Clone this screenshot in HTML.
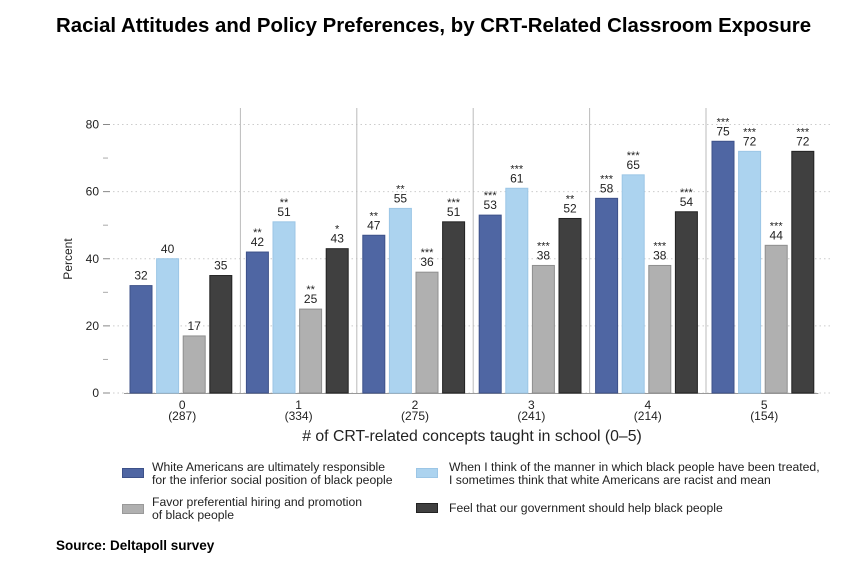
<!DOCTYPE html>
<html><head><meta charset="utf-8"><style>
body{margin:0;background:#fff;font-family:"Liberation Sans",Arial,sans-serif;}
#wrap{position:relative;width:867px;height:564px;overflow:hidden;}
.t{position:absolute;white-space:nowrap;}
.sw{position:absolute;width:22px;height:10px;}
.lg{position:absolute;font-size:12.2px;line-height:13px;color:#222;white-space:nowrap;}
</style></head><body>
<div id="wrap">
<div class="t" style="left:56px;top:15px;font-size:20.4px;font-weight:bold;color:#000;">Racial Attitudes and Policy Preferences, by CRT-Related Classroom Exposure</div>
<svg id="chart" width="867" height="564" style="position:absolute;left:0;top:0"></svg>
<div class="sw" style="left:122px;top:468px;background:#4f66a3;border:1px solid #3d5189;box-sizing:border-box"></div>
<div class="lg" style="left:152px;top:461px">White Americans are ultimately responsible<br>for the inferior social position of black people</div>
<div class="sw" style="left:416px;top:468px;background:#acd3ef;border:1px solid #9cc6e6;box-sizing:border-box"></div>
<div class="lg" style="left:449px;top:461px">When I think of the manner in which black people have been treated,<br>I sometimes think that white Americans are racist and mean</div>
<div class="sw" style="left:122px;top:504px;background:#b0b0b0;border:1px solid #999;box-sizing:border-box"></div>
<div class="lg" style="left:152px;top:496px">Favor preferential hiring and promotion<br>of black people</div>
<div class="sw" style="left:416px;top:503px;background:#404040;border:1px solid #222;box-sizing:border-box"></div>
<div class="lg" style="left:449px;top:502px">Feel that our government should help black people</div>
<div class="t" style="left:56px;top:538px;font-size:13.5px;font-weight:bold;color:#000;">Source: Deltapoll survey</div>
</div>
<script>
const categories=["0","1","2","3","4","5"];
const counts=["(287)","(334)","(275)","(241)","(214)","(154)"];
const responsible=[32,42,47,53,58,75];
const racist=[40,51,55,61,65,72];
const hiring=[17,25,36,38,38,44];
const government=[35,43,51,52,54,72];
const sigResponsible=["","**","**","***","***","***"];
const sigRacist=["","**","**","***","***","***"];
const sigHiring=["","**","***","***","***","***"];
const sigGovernment=["","*","***","**","***","***"];
const yTicks=[0,20,40,60,80];
const minorTicks=[10,30,50,70];

const NS="http://www.w3.org/2000/svg";
const svg=document.getElementById('chart');
const y0=393,y80=124.5;
function yS(v){return y0-(v/80)*(y0-y80);}
const gStart=124,gW=116.4;
function xG(i){return gStart+i*gW;}
function mk(t,a){const e=document.createElementNS(NS,t);for(const k in a)e.setAttribute(k,a[k]);svg.appendChild(e);return e;}
const series=[
 {d:responsible,s:sigResponsible,f:"#4f66a3",st:"#3d5189",n:"responsible"},
 {d:racist,s:sigRacist,f:"#acd3ef",st:"#9cc6e6",n:"racist"},
 {d:hiring,s:sigHiring,f:"#b0b0b0",st:"#8f8f8f",n:"hiring"},
 {d:government,s:sigGovernment,f:"#404040",st:"#222",n:"government"}];
yTicks.forEach(v=>{
 const g=mk('line',{x1:113,x2:833,y1:yS(v),y2:yS(v),stroke:'#ccc','stroke-dasharray':'1.5,3','stroke-width':1});
 
 
 const tk=mk('line',{x1:103,x2:110,y1:yS(v),y2:yS(v),stroke:'#888'});
 
 
 const t=mk('text',{x:99,y:yS(v)+4,'text-anchor':'end','font-size':12,fill:'#222','font-family':'Liberation Sans'});
 t.textContent=v;
 
 
});
minorTicks.forEach(v=>{
 const tk=mk('line',{x1:103,x2:108,y1:yS(v),y2:yS(v),stroke:'#aaa'});
 
 
});
const yt=mk('text',{x:72,y:259,transform:'rotate(-90 72 259)','text-anchor':'middle','font-size':12,fill:'#222','font-family':'Liberation Sans'});
yt.textContent='Percent';


for(let i=1;i<categories.length;i++){
 const l=mk('line',{x1:xG(i),x2:xG(i),y1:108,y2:y0,stroke:'#bbb','stroke-width':1});
 
 
}
const ax=mk('line',{x1:124,x2:xG(6)-4,y1:y0+0.5,y2:y0+0.5,stroke:'#999'});


categories.forEach((c,i)=>{
 series.forEach((s,j)=>{
  const x=xG(i)+6+j*26.6, w=22, v=s.d[i];
  const r=mk('rect',{x:x,y:yS(v),width:w,height:y0-yS(v),fill:s.f,stroke:s.st,'stroke-width':1});
  
  
  const t=mk('text',{x:x+w/2,y:yS(v)-6,'text-anchor':'middle','font-size':12,fill:'#222','font-family':'Liberation Sans'});
  t.textContent=v;
  
  
  if(s.s[i]){
   const st=mk('text',{x:x+w/2,y:yS(v)-16,'text-anchor':'middle','font-size':11,fill:'#222','font-family':'Liberation Sans'});
   st.textContent=s.s[i];
   
   
  }
 });
 const cx=xG(i)+gW/2;
 const t1=mk('text',{x:cx,y:409,'text-anchor':'middle','font-size':12,fill:'#222','font-family':'Liberation Sans'});
 t1.textContent=c;
 
 
 const t2=mk('text',{x:cx,y:420,'text-anchor':'middle','font-size':12,fill:'#222','font-family':'Liberation Sans'});
 t2.textContent=counts[i];
 
 
});
const xt=mk('text',{x:472,y:441,'text-anchor':'middle','font-size':15.8,fill:'#222','font-family':'Liberation Sans'});
xt.textContent='# of CRT-related concepts taught in school (0–5)';


</script>
</body></html>
